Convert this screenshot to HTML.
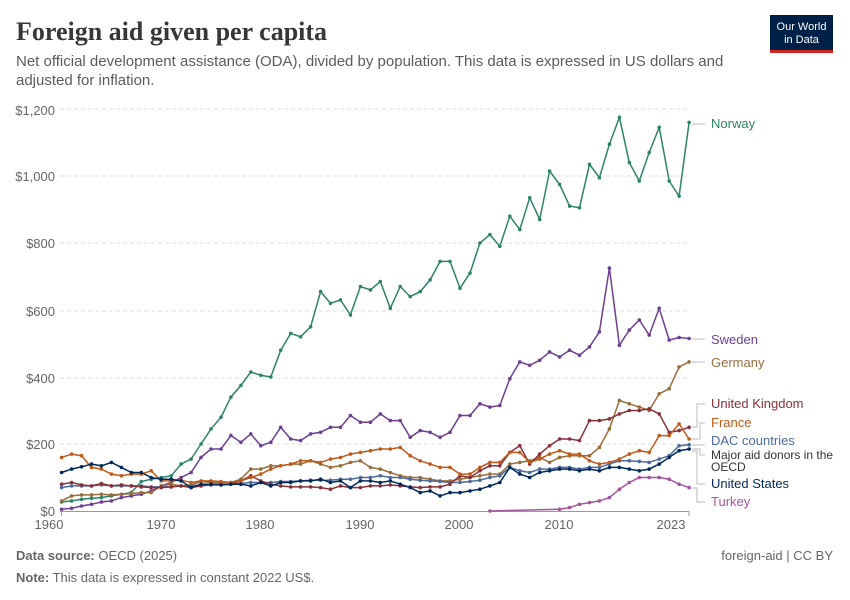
<!DOCTYPE html>
<html><head><meta charset="utf-8"><style>
body{margin:0;background:#fff;width:850px;height:600px;overflow:hidden;font-family:"Liberation Sans",sans-serif}
</style></head><body>
<svg id="s" width="850" height="600" xmlns="http://www.w3.org/2000/svg" style="position:absolute;left:0;top:0">
<text x="16" y="40" font-family="Liberation Serif,serif" font-size="26" font-weight="bold" fill="#373737">Foreign aid given per capita</text>
<text x="16" y="66" font-size="15" fill="#5b5b5b">Net official development assistance (ODA), divided by population. This data is expressed in US dollars and</text>
<text x="16" y="85" font-size="15" fill="#5b5b5b">adjusted for inflation.</text>
<rect x="770" y="15" width="63" height="35" fill="#002147"/>
<rect x="770" y="50" width="63" height="3" fill="#ce261e"/>
<text x="801.5" y="30" font-size="11" fill="#fff" text-anchor="middle">Our World</text>
<text x="801.5" y="43" font-size="11" fill="#fff" text-anchor="middle">in Data</text>
<g font-size="13" fill="#666" text-anchor="end">
<text x="55" y="115">$1,200</text><text x="55" y="181">$1,000</text><text x="55" y="248">$800</text>
<text x="55" y="316">$600</text><text x="55" y="383">$400</text><text x="55" y="449">$200</text><text x="55" y="516">$0</text>
</g>
<g stroke="#ddd" stroke-dasharray="4,3">
<line x1="60" x2="689" y1="109" y2="109"/><line x1="60" x2="689" y1="176" y2="176"/><line x1="60" x2="689" y1="243" y2="243"/>
<line x1="60" x2="689" y1="311" y2="311"/><line x1="60" x2="689" y1="378" y2="378"/><line x1="60" x2="689" y1="444" y2="444"/>
</g>
<line x1="60" x2="689" y1="511.5" y2="511.5" stroke="#999"/>
<g stroke="#999"><line x1="61.6" x2="61.6" y1="511" y2="516"/><line x1="689" x2="689" y1="511" y2="516"/></g>
<g font-size="13" fill="#666" text-anchor="middle">
<text x="49" y="529">1960</text><text x="161" y="529">1970</text><text x="260" y="529">1980</text><text x="360" y="529">1990</text>
<text x="459" y="529">2000</text><text x="559" y="529">2010</text><text x="671" y="529">2023</text>
</g>
<g id="lines"></g>
<g font-size="13">
<text x="711" y="128" fill="#2c8465">Norway</text>
<text x="711" y="344" fill="#6d3e91">Sweden</text>
<text x="711" y="367" fill="#996d39">Germany</text>
<text x="711" y="408" fill="#883039">United Kingdom</text>
<text x="711" y="427" fill="#c05917">France</text>
<text x="711" y="445" fill="#4c6a9c">DAC countries</text>
<text x="711" y="459" font-size="12" fill="#333">Major aid donors in the</text>
<text x="711" y="471" font-size="12" fill="#333">OECD</text>
<text x="711" y="488" fill="#00295b">United States</text>
<text x="711" y="506" fill="#a2559c">Turkey</text>
</g>
<g stroke="#bbb" fill="none">
<path d="M692 124H705"/><path d="M692 339H705"/><path d="M692 362H705"/>
<path d="M692 427H697V404H705"/><path d="M692 439H700V423H705"/><path d="M692 445H705"/>
<path d="M692 449H700V455H705"/><path d="M692 451H697V484H705"/><path d="M692 488H697V502H705"/>
</g>
<text x="16" y="560" font-size="13" fill="#666"><tspan font-weight="bold">Data source:</tspan> OECD (2025)</text>
<text x="16" y="582" font-size="13" fill="#666"><tspan font-weight="bold">Note:</tspan> This data is expressed in constant 2022 US$.</text>
<text x="833" y="560" font-size="13" fill="#666" text-anchor="end">foreign-aid | CC BY</text>
</svg>
<script>
var D={
"#2c8465":[1960,[27,30,35,38,40,45,50,55,88,95,100,105,140,155,200,245,280,340,375,415,405,400,480,530,520,550,655,620,630,585,670,660,685,605,670,640,655,690,745,745,665,710,800,825,790,880,840,935,870,1015,975,910,905,1035,995,1095,1175,1040,985,1070,1145,985,940,1160]],
"#6d3e91":[1960,[5,8,15,20,27,30,40,45,50,60,75,85,100,115,160,185,185,225,205,230,195,205,250,215,210,230,235,250,250,285,265,265,290,270,270,220,240,235,220,235,285,285,320,310,315,395,445,435,450,475,460,480,465,490,535,725,495,540,570,525,605,510,518,515]],
"#996d39":[1960,[30,45,48,48,50,48,50,52,55,55,75,80,75,78,88,85,85,85,95,125,125,135,135,140,140,150,140,130,135,145,150,130,125,115,105,100,100,95,90,90,95,100,105,110,110,140,145,150,160,145,160,165,165,165,190,245,330,320,310,300,350,365,430,445]],
"#4c6a9c":[1960,[70,75,75,75,78,75,75,75,75,72,72,72,75,75,78,80,80,80,82,85,85,85,88,88,90,92,92,92,95,95,100,100,105,100,100,95,92,90,88,85,85,88,92,100,105,130,120,115,125,125,130,130,125,130,130,140,150,150,148,145,155,165,195,198]],
"#883039":[1960,[80,85,78,75,82,75,78,75,72,70,70,72,75,70,75,78,78,80,90,105,90,80,75,72,72,72,70,65,75,70,70,75,75,78,75,72,70,72,72,80,105,100,120,135,135,175,195,140,170,195,215,215,210,270,270,275,290,300,300,305,290,235,240,250]],
"#c05917":[1960,[160,170,165,130,125,110,105,110,110,120,90,90,92,85,90,90,88,85,90,100,110,125,135,140,150,150,145,155,160,170,175,180,185,185,190,165,150,140,130,130,110,110,130,145,145,175,175,145,155,170,180,170,170,150,140,145,155,170,180,175,225,225,260,215]],
"#00295b":[1960,[115,125,132,140,135,145,130,115,115,100,95,95,90,70,80,80,78,80,80,75,85,75,85,85,90,90,95,85,90,70,90,90,85,90,80,70,55,60,45,55,55,60,65,75,85,130,110,100,115,120,125,125,120,125,120,130,130,125,120,125,140,160,180,185]],
"#a2559c":[2003,[0,1,2,3,4,5,6,5,10,20,25,30,40,65,85,100,100,100,95,80,70]]};
var g=document.getElementById('lines'),h='';
for(var c in D){var y0=D[c][0],a=D[c][1],p=[],dots='';
for(var i=0;i<a.length;i++){var yr=y0+i;if(c=="#a2559c"&&yr>2003&&yr<2010)continue;var x=(61.6+(yr-1960)*9.96).toFixed(1),y=(511-a[i]*0.335).toFixed(1);p.push(x+','+y);dots+='<circle cx="'+x+'" cy="'+y+'" r="1.8" fill="'+c+'"/>';}
h+='<polyline points="'+p.join(' ')+'" fill="none" stroke="'+c+'" stroke-width="1.5"/>'+dots;}
g.innerHTML=h;
</script>
</body></html>
